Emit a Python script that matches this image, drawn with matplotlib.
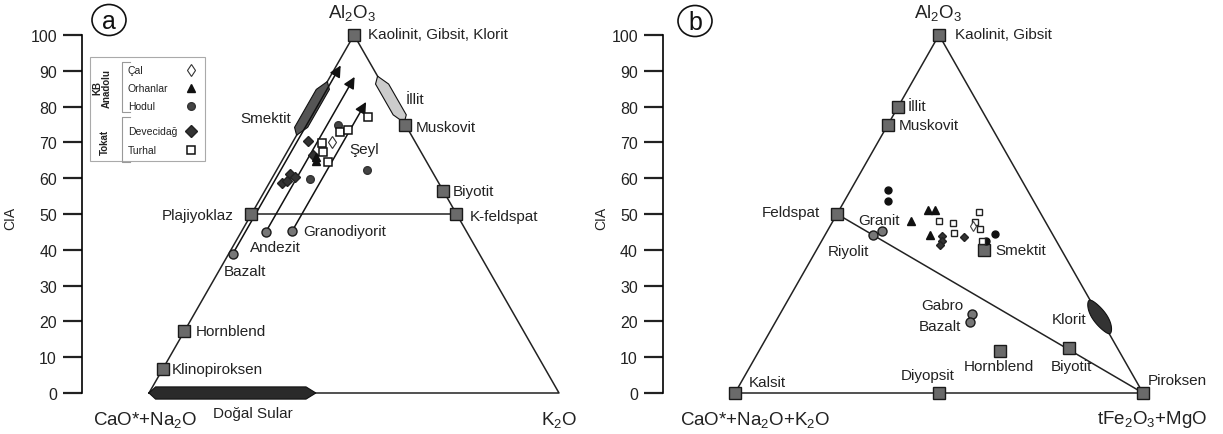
import numpy as np
import matplotlib
matplotlib.use('Agg')
import matplotlib.pyplot as plt
from matplotlib.patches import Polygon, Ellipse, Rectangle

plt.rcParams['font.family'] = ['Liberation Sans', 'DejaVu Sans']
plt.rcParams['mathtext.fontset'] = 'custom'
plt.rcParams['mathtext.rm'] = 'Liberation Sans'
plt.rcParams['mathtext.default'] = 'regular'

# ---- veri: panel a (A = Al2O3, K = K2O, %), panel b (A = Al2O3, FM = tFe2O3+MgO, %)
cal_A, cal_K = [70.1], [9.6]
orh_A, orh_K = [64.8, 66.0], [8.3, 7.8]
hod_A, hod_K = [74.9, 59.8, 62.3], [8.6, 9.4, 22.0]
dev_A, dev_K = [70.4, 66.5, 58.7, 61.2, 60.3, 59.2], [3.6, 6.7, 3.1, 3.8, 5.5, 4.1]
tur_A, tur_K = [69.8, 67.3, 64.5, 72.9, 73.5, 77.1], [7.3, 8.8, 11.4, 10.1, 11.8, 14.9]

min_a_names = ['Al2O3', 'Muskovit', 'Biyotit', 'K-feldspat', 'Plajiyoklaz', 'Hornblend', 'Klinopiroksen']
min_a_A = [100, 75, 56.4, 50, 50, 17.3, 6.7]
min_a_K = [0, 25, 43.6, 50, 0, 0, 0]

rock_a_names = ['Bazalt', 'Andezit', 'Granodiyorit']
rock_a_A = [38.8, 45.0, 45.3]
rock_a_K = [1.0, 6.0, 12.3]
arrow_a_top = [91.5, 88.3, 81.3]

cal_bA, cal_FM = [46.6], [35.0]
orh_bA, orh_FM = [51.1, 51.1, 48.0, 44.1], [21.8, 23.5, 19.1, 25.8]
hod_bA, hod_FM = [56.7, 53.6, 44.4, 42.5], [9.2, 10.7, 41.5, 40.3]
dev_bA, dev_FM = [43.9, 42.5, 41.3, 43.6], [28.8, 29.5, 29.6, 34.3]
tur_bA, tur_FM = [48.0, 47.5, 44.7, 50.6, 47.8, 45.8, 42.5], [26.0, 29.7, 31.4, 34.5, 34.9, 37.1, 39.3]

min_b_names = ['Kaolinit', 'İllit', 'Muskovit', 'Feldspat', 'Smektit', 'Hornblend', 'Biyotit', 'Kalsit', 'Diyopsit', 'Piroksen']
min_b_A = [100, 80, 75, 50, 40, 11.7, 12.6, 0, 0, 0]
min_b_FM = [0, 0, 0, 0, 41, 59, 75.6, 0, 50, 100]

rock_b_names = ['Granit', 'Riyolit', 'Gabro', 'Bazalt']
rock_b_A = [45.3, 44.1, 22.0, 19.8]
rock_b_FM = [13.4, 11.7, 47.1, 47.6]

W, H = 1223, 435
fig = plt.figure(figsize=(W / 100, H / 100), dpi=100)
TXT = '#222222'


def tern(A, R):
    A = np.asarray(A, float)
    R = np.asarray(R, float)
    return R + A / 2, A


def panel(px_left, px_right, x0px, sx):
    ax = fig.add_axes([px_left / W, 0, (px_right - px_left) / W, 1])
    ax.set_xlim((px_left - x0px) / sx, (px_right - x0px) / sx)
    ax.set_ylim((394 - H) / 3.58, 394 / 3.58)
    ax.set_facecolor('none')
    for s in ['top', 'right', 'bottom']:
        ax.spines[s].set_visible(False)
    ax.spines['left'].set_bounds(0, 100)
    ax.spines['left'].set_linewidth(1.2)
    ax.set_xticks([])
    ax.set_yticks(np.arange(0, 101, 10))
    ax.tick_params(axis='y', direction='out', length=14, width=1.6, labelsize=11.5, pad=4, colors=TXT)
    ax.set_ylabel('CIA', fontsize=10, color=TXT)
    return ax


def band(ax, A1, A2, d, w, side, fc):
    # kenar boyunca altıgen bant; side=-1 sol kenar, +1 sağ kenar
    def xe(a):
        return a / 2 if side < 0 else 100 - a / 2
    pts = [(xe(A1), A1), (xe(A1 + d) + w, A1 + d), (xe(A2 - d) + w, A2 - d), (xe(A2), A2),
           (xe(A2 - d) - w, A2 - d), (xe(A1 + d) - w, A1 + d)]
    ax.add_patch(Polygon(pts, closed=True, fc=fc, ec='#111111', lw=0.8, zorder=3))


sq = dict(ls='none', marker='s', ms=8, mfc='#6a6a6a', mec='#1a1a1a', mew=1.0, zorder=6)
rk = dict(ls='none', marker='o', ms=6.5, mfc='#777777', mec='#1a1a1a', mew=1.0, zorder=6)

# ---------------- panel a
ax = panel(82, 600, 149, 4.1)
ax.yaxis.set_label_coords(-(82 - 17) / 518, 217 / H, transform=None)
ax.plot([0, 50, 100, 0], [0, 100, 0, 0], color='#222222', lw=1.1, zorder=2)
ax.plot([25, 75], [50, 50], color='#222222', lw=1.1, zorder=2)
band(ax, 72, 87, 2.2, 1.6, -1, '#555555')
band(ax, 75.5, 88.5, 2.2, 1.6, 1, '#cccccc')
ax.add_patch(Polygon([(0, 0), (1.6, 1.7), (38.3, 1.7), (40.7, 0), (38.3, -1.7), (1.6, -1.7)],
                     closed=True, fc='#2a2a2a', ec='#111111', lw=0.8, zorder=3))
for A0, K0, A1 in zip(rock_a_A, rock_a_K, arrow_a_top):
    x0, y0 = tern(A0, K0)
    x1, y1 = tern(A1, K0)
    ax.annotate('', xy=(x1, y1), xytext=(x0, y0),
                arrowprops=dict(arrowstyle='-|>', lw=1.1, color='#111111', mutation_scale=17,
                                shrinkA=0, shrinkB=0), zorder=4)
ax.plot(*tern(rock_a_A, rock_a_K), **rk)
ax.plot(*tern(min_a_A, min_a_K), **sq)
ax.plot(*tern(dev_A, dev_K), ls='none', marker='D', ms=5.5, mfc='#333333', mec='#222222', zorder=7)
ax.plot(*tern(orh_A, orh_K), ls='none', marker='^', ms=6, mfc='#111111', mec='#111111', zorder=7)
ax.plot(*tern(hod_A, hod_K), ls='none', marker='o', ms=5.5, mfc='#444444', mec='#333333', zorder=7)
ax.plot(*tern(tur_A, tur_K), ls='none', marker='s', ms=5.5, mfc='white', mec='#111111', mew=1.1, zorder=8)
ax.plot(*tern(cal_A, cal_K), ls='none', marker='d', ms=6.5, mfc='white', mec='#333333', mew=0.8, zorder=8)

# ---------------- panel b
bx = panel(663, 1223, 735, 4.08)
bx.yaxis.set_label_coords(-(663 - 608) / 560, 217 / H, transform=None)
bx.plot([0, 50, 100, 0], [0, 100, 0, 0], color='#222222', lw=1.1, zorder=2)
bx.plot([25, 100], [50, 0], color='#222222', lw=1.1, zorder=2)
t = np.linspace(0, 1, 40)
kA = 16.5 + 9.5 * t
kw = 2.0 * np.sin(np.pi * t) ** 0.6
kx = 100 - kA / 2
bx.add_patch(Polygon(np.column_stack([np.r_[kx + kw, (kx - kw)[::-1]], np.r_[kA, kA[::-1]]]),
                     closed=True, fc='#333333', ec='#111111', lw=0.8, zorder=3))
bx.plot(*tern(min_b_A, min_b_FM), **sq)
bx.plot(*tern(rock_b_A, rock_b_FM), **rk)
bx.plot(*tern(dev_bA, dev_FM), ls='none', marker='D', ms=4.5, mfc='#333333', mec='#222222', zorder=7)
bx.plot(*tern(orh_bA, orh_FM), ls='none', marker='^', ms=5.5, mfc='#111111', mec='#111111', zorder=7)
bx.plot(*tern(hod_bA, hod_FM), ls='none', marker='o', ms=5, mfc='#111111', mec='#111111', zorder=7)
bx.plot(*tern(tur_bA, tur_FM), ls='none', marker='s', ms=4.5, mfc='white', mec='#222222', mew=1.0, zorder=8)
bx.plot(*tern(cal_bA, cal_FM), ls='none', marker='d', ms=5.5, mfc='white', mec='#444444', mew=0.8, zorder=8)

# ---------------- etiketler (piksel koordinatlarında üst katman)
ov = fig.add_axes([0, 0, 1, 1])
ov.set_xlim(0, W)
ov.set_ylim(H, 0)
ov.axis('off')
ov.set_zorder(10)


def lab(x, y, s, ha='left', fs=11, **kw):
    ov.text(x, y, s, ha=ha, va='center', fontsize=fs, color=TXT, **kw)


for x, y, s, ha in [(368, 35, 'Kaolinit, Gibsit, Klorit', 'left'), (406, 100, 'İllit', 'left'),
                    (416, 128, 'Muskovit', 'left'), (453, 192, 'Biyotit', 'left'),
                    (470, 217, 'K-feldspat', 'left'), (234, 216, 'Plajiyoklaz', 'right'),
                    (291, 119, 'Smektit', 'right'), (364, 150, 'Şeyl', 'center'),
                    (275, 248, 'Andezit', 'center'), (303, 232, 'Granodiyorit', 'left'),
                    (245, 272, 'Bazalt', 'center'), (196, 332, 'Hornblend', 'left'),
                    (172, 370, 'Klinopiroksen', 'left'), (253, 414, 'Doğal Sular', 'center'),
                    (955, 35, 'Kaolinit, Gibsit', 'left'), (908, 107, 'İllit', 'left'),
                    (899, 126, 'Muskovit', 'left'), (820, 213, 'Feldspat', 'right'),
                    (879, 221, 'Granit', 'center'), (848, 252, 'Riyolit', 'center'),
                    (995, 251, 'Smektit', 'left'), (942, 306, 'Gabro', 'center'),
                    (940, 327, 'Bazalt', 'center'), (1069, 320, 'Klorit', 'center'),
                    (999, 367, 'Hornblend', 'center'), (1071, 367, 'Biyotit', 'center'),
                    (928, 376, 'Diyopsit', 'center'), (749, 383, 'Kalsit', 'left'),
                    (1148, 381, 'Piroksen', 'left')]:
    lab(x, y, s, ha=ha)

for x, y, s in [(352, 13, 'Al$_2$O$_3$'), (145, 420, 'CaO*+Na$_2$O'), (559, 420, 'K$_2$O'),
                (938, 13, 'Al$_2$O$_3$'), (755, 420, 'CaO*+Na$_2$O+K$_2$O'),
                (1152, 420, 'tFe$_2$O$_3$+MgO')]:
    lab(x, y, s, ha='center', fs=13.5)

for cx, cy, s in [(109, 21, 'a'), (695, 22, 'b')]:
    ov.add_patch(Ellipse((cx, cy), 34, 31, fc='white', ec='#111111', lw=1.2))
    ov.text(cx, cy + 1, s, ha='center', va='center', fontsize=18, color='#111111')

# lejant
ov.add_patch(Rectangle((90, 58), 115, 104, fc='white', ec='#aaaaaa', lw=0.8))
ov.text(102, 88, 'KB\nAnadolu', rotation=90, ha='center', va='center', fontsize=7,
        fontweight='bold', color=TXT, linespacing=1.0)
ov.text(105, 142, 'Tokat', rotation=90, ha='center', va='center', fontsize=7,
        fontweight='bold', color=TXT)
for y0, y1 in [(63, 113), (118, 163)]:
    ov.plot([130, 122, 122, 130], [y0, y0, y1, y1], color='#999999', lw=0.8)
leg = [('Çal', 71, dict(marker='d', ms=6.5, mfc='white', mec='#333333', mew=0.8)),
       ('Orhanlar', 89, dict(marker='^', ms=6, mfc='#111111', mec='#111111')),
       ('Hodul', 107, dict(marker='o', ms=5.5, mfc='#444444', mec='#333333')),
       ('Devecidağ', 132, dict(marker='D', ms=6, mfc='#333333', mec='#222222')),
       ('Turhal', 151, dict(marker='s', ms=6, mfc='white', mec='#111111', mew=1.1))]
for name, y, st in leg:
    ov.text(128, y, name, ha='left', va='center', fontsize=7.5, color=TXT)
    ov.plot([191], [y], ls='none', **st)

fig.savefig('out.png', dpi=100)
